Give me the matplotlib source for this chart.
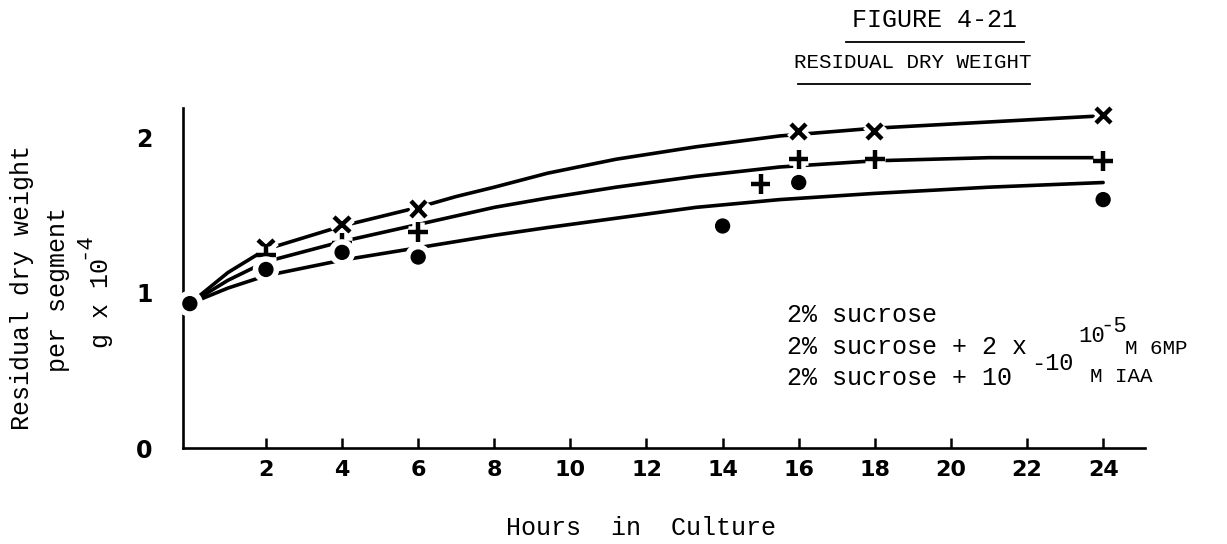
import matplotlib
matplotlib.use("Agg")
import matplotlib.pyplot as plt
import matplotlib.patheffects as pe

W, H = 1227, 544

# measured points (hours, residual dry weight g x 10^-4)
hours_iaa = [2, 4, 6, 16, 18, 24]
vals_iaa = [1.29, 1.44, 1.54, 2.04, 2.04, 2.14]
hours_6mp = [2, 4, 6, 15, 16, 18, 24]
vals_6mp = [1.24, 1.32, 1.39, 1.70, 1.86, 1.86, 1.85]
hours_suc = [0, 2, 4, 6, 14, 16, 24]
vals_suc = [0.93, 1.15, 1.26, 1.23, 1.43, 1.71, 1.60]

# hand drawn curves
curve_top_h = [0, 1, 2, 4, 6, 7, 8, 9.4, 11.2, 13.3, 15.5, 18, 21, 24]
curve_top_v = [0.93, 1.13, 1.28, 1.43, 1.55, 1.62, 1.68, 1.77, 1.86, 1.94, 2.01, 2.06, 2.10, 2.14]
curve_mid_h = [0, 1, 2, 4, 6, 8, 9.4, 11.2, 13.3, 15.5, 18, 21, 24]
curve_mid_v = [0.93, 1.08, 1.20, 1.33, 1.44, 1.55, 1.61, 1.68, 1.75, 1.81, 1.85, 1.87, 1.87]
curve_bot_h = [0, 1, 2, 4, 6, 8, 9.4, 11.2, 13.3, 15.5, 18, 21, 24]
curve_bot_v = [0.93, 1.03, 1.11, 1.21, 1.29, 1.37, 1.42, 1.48, 1.55, 1.60, 1.64, 1.68, 1.71]

xticks = list(range(2, 25, 2))
yticks = [0, 1, 2]

MONO = "Liberation Mono"


def fx(px):
    return px / W


def fy(py):
    return 1 - py / H


fig = plt.figure(figsize=(W / 100, H / 100), dpi=100)
ax = fig.add_axes([fx(183), fy(448), (1145 - 183) / W, (448 - 108) / H])
ax.set_xlim(-0.18, 25.1)
ax.set_ylim(0, 2.19)

for h, v in [(curve_top_h, curve_top_v), (curve_mid_h, curve_mid_v),
             (curve_bot_h, curve_bot_v)]:
    ax.plot(h, v, color="black", lw=2.6, solid_capstyle="round",
            solid_joinstyle="round", zorder=2)

halo = [pe.Stroke(linewidth=9, foreground="white"), pe.Normal()]
ax.plot(hours_iaa, vals_iaa, ls="none", marker="x", ms=11, mew=3.2,
        color="black", path_effects=halo, zorder=3, clip_on=False)
ax.plot(hours_6mp, vals_6mp, ls="none", marker="+", ms=14, mew=3.2,
        color="black", path_effects=halo, zorder=3, clip_on=False)
ax.plot(hours_suc, vals_suc, ls="none", marker="o", ms=10, mew=1,
        color="black", path_effects=halo, zorder=4, clip_on=False)

for s in ["top", "right"]:
    ax.spines[s].set_visible(False)
for s in ["left", "bottom"]:
    ax.spines[s].set_linewidth(1.9)

ax.set_xticks(xticks)
ax.set_xticklabels([str(t) for t in xticks], fontsize=16, fontweight="bold")
ax.tick_params(axis="x", direction="in", length=7, width=1.8, pad=9)
ax.set_yticks(yticks)
ax.set_yticklabels([str(t) for t in yticks], fontsize=17, fontweight="bold")
ax.tick_params(axis="y", length=0, pad=22)

# titles
fig.text(fx(935), fy(20), "FIGURE 4-21", family=MONO, fontsize=18,
         ha="center", va="center")
fig.add_artist(plt.Line2D([fx(846), fx(1024)], [fy(42), fy(42)], color="black", lw=1.3))
fig.text(fx(913), fy(62), "RESIDUAL DRY WEIGHT", family=MONO, fontsize=15,
         ha="center", va="center")
fig.add_artist(plt.Line2D([fx(798), fx(1030)], [fy(84), fy(84)], color="black", lw=1.3))

# axis labels
fig.text(fx(641), fy(528), "Hours  in  Culture", family=MONO, fontsize=18,
         ha="center", va="center")
fig.text(fx(22), fy(287), "Residual dry weight", family=MONO, fontsize=18,
         rotation=90, ha="center", va="center")
fig.text(fx(58), fy(290), "per segment", family=MONO, fontsize=18,
         rotation=90, ha="center", va="center")
fig.text(fx(101), fy(303), "g x 10", family=MONO, fontsize=18,
         rotation=90, ha="center", va="center")
fig.text(fx(84), fy(246), "-4", family=MONO, fontsize=16,
         rotation=90, ha="center", va="center")

# legend text as typed on the sheet
fig.text(fx(787), fy(315), "2% sucrose", family=MONO, fontsize=18,
         ha="left", va="center")
fig.text(fx(787), fy(347), "2% sucrose + 2 x", family=MONO, fontsize=18,
         ha="left", va="center")
fig.text(fx(1078), fy(337), "10", family=MONO, fontsize=16, ha="left", va="center")
fig.text(fx(1100), fy(326), "-5", family=MONO, fontsize=16, ha="left", va="center")
fig.text(fx(1125), fy(348), "M 6MP", family=MONO, fontsize=15, ha="left", va="center")
fig.text(fx(787), fy(378), "2% sucrose + 10", family=MONO, fontsize=18,
         ha="left", va="center")
fig.text(fx(1031), fy(364), "-10", family=MONO, fontsize=17, ha="left", va="center")
fig.text(fx(1090), fy(377), "M IAA", family=MONO, fontsize=15, ha="left", va="center")

fig.savefig("out.png", dpi=100)
